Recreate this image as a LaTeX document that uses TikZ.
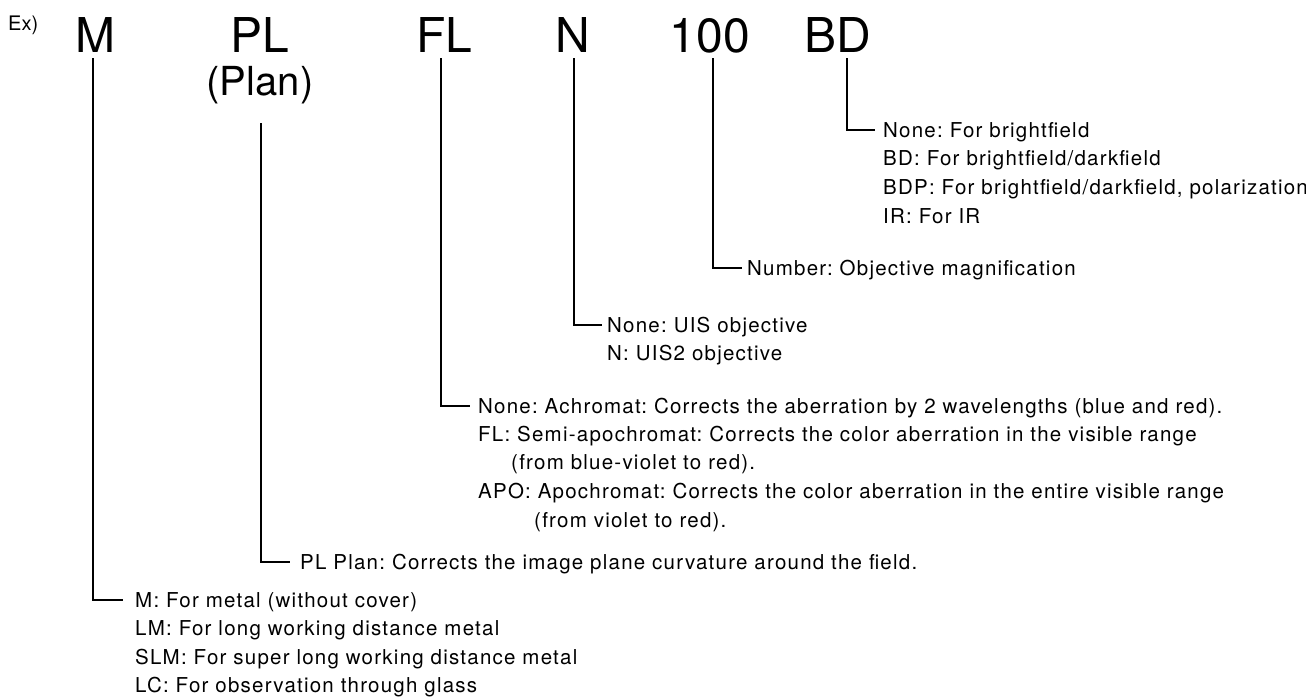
\documentclass[tikz,border=0pt]{standalone}
\usepackage{fontspec}
\setmainfont{TeX Gyre Heros}
\newfontfamily\descfont[LetterSpace=6]{TeX Gyre Heros}
\begin{document}
\frenchspacing
\begin{tikzpicture}[x=1pt,y=-1pt,
  big/.style={anchor=base,inner sep=0pt,font=\fontsize{48}{48}\selectfont},
  desc/.style={anchor=west,inner sep=0pt,text height=14pt,text depth=0pt,font=\descfont\fontsize{20.5}{24}\selectfont},
  link/.style={line width=1.8pt}]
\useasboundingbox (0,0) rectangle (1306,697);
% heading
\node[anchor=base west,inner sep=0pt,font=\fontsize{20}{20}\selectfont] (ex) at (8,30) {Ex)};
\node[big] (M) at (95.5,52) {M};
\node[big] (PL) at (260,52) {PL};
\node[anchor=base,inner sep=0pt,font=\fontsize{40}{40}\selectfont] (Plan) at (260,95) {(Plan)};
\node[big] (FL) at (444.5,52) {FL};
\node[big] (N) at (572.5,52) {N};
\node[big] (H) at (710,52) {100};
\node[big] (BD) at (838,52) {BD};
% BD descriptions
\node[desc] (bd1) at (883,130) {None: For brightfield};
\node[desc] (bd2) at (883,158.7) {BD: For brightfield/darkfield};
\node[desc] (bd3) at (883,187.4) {BDP: For brightfield/darkfield, polarization};
\node[desc] (bd4) at (883,216) {IR: For IR};
% 100
\node[desc] (h1) at (747,268) {Number: Objective magnification};
% N
\node[desc] (n1) at (607,325) {None: UIS objective};
\node[desc] (n2) at (607,353) {N: UIS2 objective};
% FL
\node[desc] (fl1) at (478,406) {None: Achromat: Corrects the aberration by 2 wavelengths (blue and red).};
\node[desc] (fl2) at (478,434) {FL: Semi-apochromat: Corrects the color aberration in the visible range};
\node[desc] (fl3) at (511,462) {(from blue-violet to red).};
\node[desc] (fl4) at (478,491) {APO: Apochromat: Corrects the color aberration in the entire visible range};
\node[desc] (fl5) at (534,520) {(from violet to red).};
% PL
\node[desc] (pl1) at (300,562) {PL Plan: Corrects the image plane curvature around the field.};
% M
\node[desc] (m1) at (135,600) {M: For metal (without cover)};
\node[desc] (m2) at (135,628.5) {LM: For long working distance metal};
\node[desc] (m3) at (135,657) {SLM: For super long working distance metal};
\node[desc] (m4) at (135,685.5) {LC: For observation through glass};
% connector tops
\coordinate (tM) at (93.3,58);
\coordinate (tPL) at (260.7,123);
\coordinate (tFL) at (441,58);
\coordinate (tN) at (574,58);
\coordinate (tH) at (713,58);
\coordinate (tBD) at (847,58);
% connectors
\draw[link] (tM) |- ([xshift=-12pt]m1.west);
\draw[link] (tPL) |- ([xshift=-10pt]pl1.west);
\draw[link] (tFL) |- ([xshift=-8pt]fl1.west);
\draw[link] (tN) |- ([xshift=-5pt]n1.west);
\draw[link] (tH) |- ([xshift=-5pt]h1.west);
\draw[link] (tBD) |- ([xshift=-8pt]bd1.west);
\end{tikzpicture}
\end{document}
